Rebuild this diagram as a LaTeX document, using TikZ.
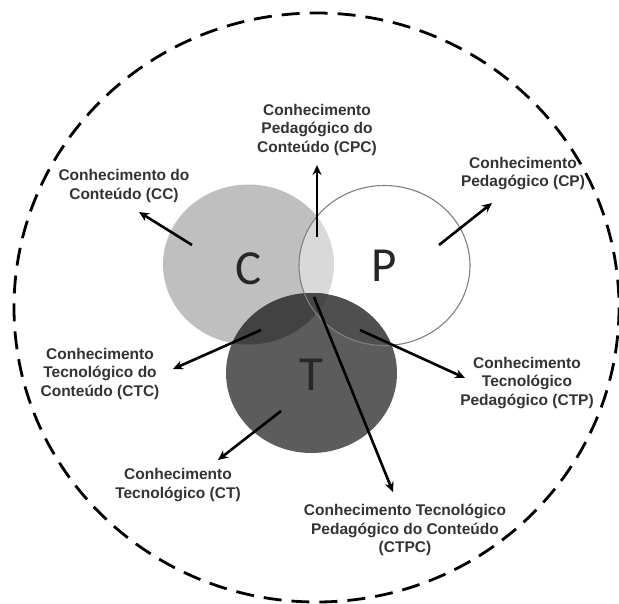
\documentclass[tikz,border=0pt]{standalone}
\usepackage{fontspec}
\setmainfont{Liberation Sans}
\newfontfamily\letterfont{Carlito}
\usetikzlibrary{arrows.meta,calc}
\definecolor{cfill}{gray}{0.75}
\definecolor{cpfill}{gray}{0.85}
\definecolor{tfill}{gray}{0.36}
\definecolor{ctfill}{gray}{0.26}
\definecolor{ptfill}{gray}{0.31}
\definecolor{cptfill}{gray}{0.28}
\definecolor{pline}{gray}{0.5}
\def\rx{85.5}
\def\ry{80}

\begin{document}
\begin{tikzpicture}[x=1pt,y=-1pt,
  lbl/.style={font=\bfseries\fontsize{15.5}{18.5}\selectfont,text=black!80,align=center,inner sep=0pt},
  big/.style={font=\letterfont\fontsize{49}{49}\selectfont,text=black!85,inner sep=0pt},
  arr/.style={line width=2.6pt,-{Stealth[length=10pt,width=9pt]}}]
\useasboundingbox (0,0) rectangle (619,603);
\coordinate (C) at (248.5,264.5); % conteudo
\coordinate (P) at (384.5,265.5); % pedagogico
\coordinate (T) at (311.5,373);   % tecnologico
\draw[line width=2.8pt,dash pattern=on 18pt off 10pt] (316.5,307.5) ellipse [x radius=302.5,y radius=294.5];
\fill[cfill] (C) ellipse [x radius=\rx,y radius=\ry];
\fill[white] (P) ellipse [x radius=\rx,y radius=\ry];
\begin{scope}
\clip (C) ellipse [x radius=\rx,y radius=\ry];
\fill[cpfill] (P) ellipse [x radius=\rx,y radius=\ry];
\end{scope}
\fill[tfill] (T) ellipse [x radius=\rx,y radius=\ry];
\begin{scope}
\clip (C) ellipse [x radius=\rx,y radius=\ry];
\fill[ctfill] (T) ellipse [x radius=\rx,y radius=\ry];
\end{scope}
\begin{scope}
\clip (P) ellipse [x radius=\rx,y radius=\ry];
\fill[ptfill] (T) ellipse [x radius=\rx,y radius=\ry];
\clip (C) ellipse [x radius=\rx,y radius=\ry];
\fill[cptfill] (T) ellipse [x radius=\rx,y radius=\ry];
\end{scope}
\draw[pline,line width=1.1pt] (P) ellipse [x radius=\rx,y radius=\ry];
\node[big] (letterC) at ($(C)+(0,4)$) {C};
\node[big] (letterP) at (P) {P};
\node[big] (letterT) at ($(T)+(0,2)$) {T};
% rotulos
\node[lbl] (cc)   at (124,186)   {Conhecimento do\\Conteúdo (CC)};
\node[lbl] (cpc)  at (317,129.5) {Conhecimento\\Pedagógico do\\Conteúdo (CPC)};
\node[lbl] (cp)   at (523,173.5) {Conhecimento\\Pedagógico (CP)};
\node[lbl] (ctc)  at (100,373.5) {Conhecimento\\Tecnológico do\\Conteúdo (CTC)};
\node[lbl] (ctp)  at (527,383)   {Conhecimento\\Tecnológico\\Pedagógico (CTP)};
\node[lbl] (ct)   at (178,485)   {Conhecimento\\Tecnológico (CT)};
\node[lbl] (ctpc) at (405,530)   {Conhecimento Tecnológico\\Pedagógico do Conteúdo\\(CTPC)};
% setas
\coordinate (cc-a) at (192,245);   \coordinate (cc-b) at (139,212);
\coordinate (cpc-a) at (317,237);  \coordinate (cpc-b) at (317,165);
\coordinate (cp-a) at (439,245);   \coordinate (cp-b) at (492,203);
\coordinate (ctc-a) at (261,330);  \coordinate (ctc-b) at (173,369);
\coordinate (ctp-a) at (360,330);  \coordinate (ctp-b) at (465,378);
\coordinate (ct-a) at (281,411);   \coordinate (ct-b) at (218,460);
\coordinate (ctpc-a) at (314,297); \coordinate (ctpc-b) at (393,492);
\foreach \k in {cc,cpc,cp,ctc,ctp,ct,ctpc}
  \draw[arr] (\k-a) -- (\k-b);
\end{tikzpicture}
\end{document}
